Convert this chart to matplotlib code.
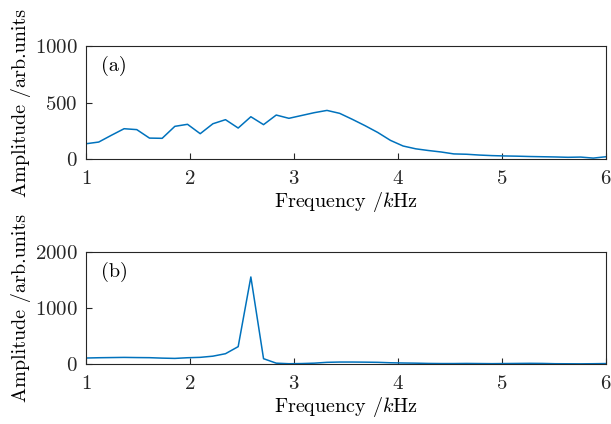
import numpy as np
import matplotlib.pyplot as plt

plt.rcParams['font.family'] = 'serif'
plt.rcParams['font.serif'] = ['cmr10']
plt.rcParams['mathtext.fontset'] = 'cm'
plt.rcParams['axes.formatter.use_mathtext'] = True

# frequency bins in kHz
freq = [1.000, 1.122, 1.244, 1.366, 1.488, 1.610, 1.732, 1.854, 1.976, 2.098,
        2.220, 2.341, 2.463, 2.585, 2.707, 2.829, 2.951, 3.073, 3.195, 3.317,
        3.439, 3.561, 3.683, 3.805, 3.927, 4.049, 4.171, 4.293, 4.415, 4.537,
        4.659, 4.780, 4.902, 5.024, 5.146, 5.268, 5.390, 5.512, 5.634, 5.756,
        5.878, 6.000]

amp_a = [135, 150, 210, 268, 260, 185, 183, 289, 307, 224,
         312, 348, 274, 374, 304, 389, 360, 385, 410, 430,
         404, 351, 295, 235, 165, 115, 90, 75, 62, 45,
         42, 35, 30, 27, 25, 22, 20, 18, 15, 17,
         8, 20]

amp_b = [107, 112, 115, 118, 115, 113, 105, 100, 112, 119,
         140, 184, 310, 1555, 95, 15, 5, 8, 15, 30,
         35, 35, 33, 30, 22, 18, 15, 10, 8, 8,
         10, 8, 6, 8, 10, 12, 10, 5, 4, 3,
         5, 8]

blue = (0.0, 0.447, 0.741)
fig = plt.figure(figsize=(6.11, 4.24), dpi=100)

ax1 = fig.add_axes([0.1408, 0.625, 0.851, 0.2665])
ax2 = fig.add_axes([0.1408, 0.1415, 0.851, 0.264])

for ax, amp, lab, ymax, yt in [(ax1, amp_a, '(a)', 1000, [0, 500, 1000]),
                               (ax2, amp_b, '(b)', 2000, [0, 1000, 2000])]:
    ax.plot(freq, amp, color=blue, lw=1.1)
    ax.set_xlim(1, 6)
    ax.set_ylim(0, ymax)
    ax.set_xticks([1, 2, 3, 4, 5, 6])
    ax.set_yticks(yt)
    ax.tick_params(direction='in', length=4, labelsize=15, colors='#262626',
                   top=False, right=False)
    ax.tick_params(axis='x', pad=8)
    ax.tick_params(axis='y', pad=6)
    for s in ax.spines.values():
        s.set_color('#262626')
        s.set_linewidth(0.8)
    ax.set_xlabel('Frequency /$k$Hz', fontsize=14.5, labelpad=1)
    ax.set_ylabel('Amplitude /arb.units', fontsize=14.5, labelpad=3)
    ax.text(0.028, 0.82, lab, transform=ax.transAxes, fontsize=14.5, va='center')

fig.savefig('out.png', dpi=100)
